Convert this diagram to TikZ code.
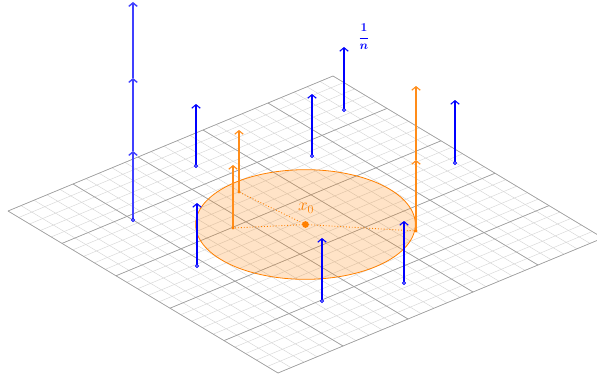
\documentclass[tikz,border=0pt]{standalone}
\usetikzlibrary{arrows.meta}
\begin{document}
\begin{tikzpicture}[x=1pt,y=-1pt,
  minorline/.style={draw=black!16, line width=0.45pt},
  majorline/.style={draw=black!38, line width=0.65pt},
  bluevec/.style={draw=blue, line width=1.1pt, -{Straight Barb[length=3.5pt,width=8.5pt]}},
  tallvec/.style={draw=blue!75, line width=1.4pt, -{Straight Barb[length=3.5pt,width=8.5pt]}},
  orangevec/.style={draw=orange!90, line width=1.1pt, -{Straight Barb[length=3.5pt,width=8.5pt]}},
  bluept/.style={draw=blue, fill=blue!35, line width=0.6pt},
  orangept/.style={fill=orange},
  radline/.style={draw=orange, line width=0.9pt, dotted}
]
\useasboundingbox (0,0) rectangle (597,380);
% ground plane
\begin{scope}[shift={(8,211)}, x={(54pt,-32.4pt)}, y={(65pt,27pt)}]
  \foreach \k in {0,...,25} {
    \draw[minorline] (\k/5,0) -- (\k/5,5);
    \draw[minorline] (0,\k/5) -- (5,\k/5);
  }
  \foreach \k in {0,...,5} {
    \draw[majorline] (\k,0) -- (\k,5);
    \draw[majorline] (0,\k) -- (5,\k);
  }
  \fill[orange, fill opacity=0.22] plot[domain=0:360, samples=120, smooth cycle] ({2.5+1.3*cos(\x)},{2.5+1.3*sin(\x)});
  \draw[orange, line width=0.8pt] plot[domain=0:360, samples=120, smooth cycle] ({2.5+1.3*cos(\x)},{2.5+1.3*sin(\x)});
  \coordinate (x0) at (2.5,2.5);
\end{scope}
% orange points
\coordinate (o1) at (233,228); \coordinate (o1t) at (233,165);
\coordinate (o2) at (239,192); \coordinate (o2t) at (239,130);
\coordinate (o3) at (416,231); \coordinate (o3m) at (416,160); \coordinate (o3t) at (416,86);
\draw[radline] (x0) -- (o1);
\draw[radline] (x0) -- (o2);
\draw[radline] (x0) -- (o3);
\draw[orangevec] (o1) -- (o1t);
\draw[orangevec] (o2) -- (o2t);
\draw[orangevec] (o3) -- (o3m);
\draw[orangevec] (o3m) -- (o3t);
\foreach \p in {o1,o2,o3} {\fill[orangept] (\p) circle[radius=1.6pt];}
% blue points
\coordinate (b1) at (133,220); \coordinate (b1a) at (133,151); \coordinate (b1b) at (133,78); \coordinate (b1t) at (133,2);
\coordinate (b2) at (196,166); \coordinate (b2t) at (196,104);
\coordinate (b3) at (312,156); \coordinate (b3t) at (312,94);
\coordinate (b4) at (344,110); \coordinate (b4t) at (344,47);
\coordinate (b5) at (455,163); \coordinate (b5t) at (455,100);
\coordinate (b6) at (197,266); \coordinate (b6t) at (197,203);
\coordinate (b7) at (322,301); \coordinate (b7t) at (322,238);
\coordinate (b8) at (404,283); \coordinate (b8t) at (404,221);
\draw[tallvec] (b1) -- (b1a);
\draw[tallvec] (b1a) -- (b1b);
\draw[tallvec] (b1b) -- (b1t);
\foreach \p in {2,...,8} {\draw[bluevec] (b\p) -- (b\p t);}
\foreach \p in {1,...,8} {\filldraw[bluept] (b\p) circle[radius=1.6pt];}
\fill[orange] (x0) circle[radius=3.4pt];
\node[orange, inner sep=0pt, font=\fontsize{17}{19}\selectfont] (lx) at (306,208) {$x_0$};
\node[blue, inner sep=0pt, font=\boldmath\fontsize{12}{14}\selectfont] (lbl) at (364,37) {$\displaystyle\frac{1}{n}$};
\end{tikzpicture}
\end{document}
